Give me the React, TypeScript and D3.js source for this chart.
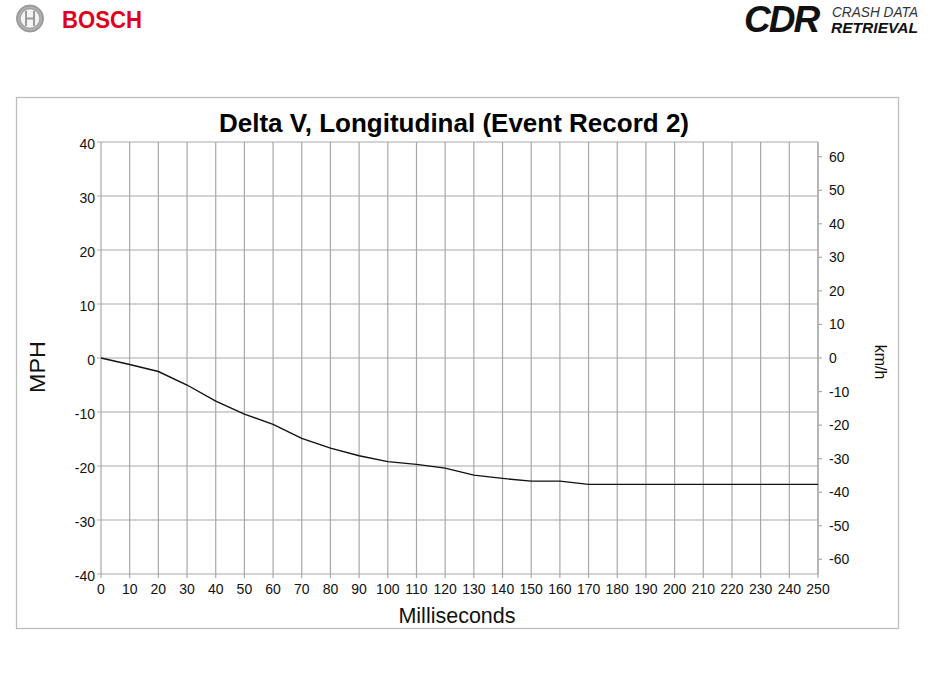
import * as d3 from "d3";
import { useEffect, useRef } from "react";

const timeMs: number[] = [0, 10, 20, 30, 40, 50, 60, 70, 80, 90, 100, 110, 120, 130, 140, 150, 160, 170, 180, 190, 200, 210, 220, 230, 240, 250];
const deltaVMph: number[] = [0, -1.2, -2.5, -5.0, -8.0, -10.4, -12.3, -14.9, -16.7, -18.1, -19.2, -19.7, -20.4, -21.7, -22.3, -22.8, -22.8, -23.4, -23.4, -23.4, -23.4, -23.4, -23.4, -23.4, -23.4, -23.4];
const mphTicks: number[] = [-40, -30, -20, -10, 0, 10, 20, 30, 40];
const kmhTicks: number[] = [-60, -50, -40, -30, -20, -10, 0, 10, 20, 30, 40, 50, 60];
const msTicks: number[] = d3.range(0, 251, 10);

const KMH_PER_MPH = 1.609344;

export default function App() {
  const svgRef = useRef<SVGSVGElement | null>(null);

  useEffect(() => {
    const width = 936;
    const height = 676;
    const svg = d3.select(svgRef.current).attr("width", width).attr("height", height);
    svg.selectAll("*").remove();

    const font = "'Liberation Sans', Arial, sans-serif";
    const left = 101, right = 818, top = 142, bottom = 574;

    const x = d3.scaleLinear().domain([0, 250]).range([left, right]);
    const y = d3.scaleLinear().domain([-40, 40]).range([bottom, top]);
    const yKmh = d3.scaleLinear().domain([-40 * KMH_PER_MPH, 40 * KMH_PER_MPH]).range([bottom, top]);

    // header logos
    const logo = svg.append("g");
    const grad = svg.append("defs").append("radialGradient").attr("id", "boschRing");
    grad.append("stop").attr("offset", "60%").attr("stop-color", "#ececec");
    grad.append("stop").attr("offset", "100%").attr("stop-color", "#8a8a8a");
    logo.append("circle").attr("cx", 30).attr("cy", 18.5).attr("r", 13.5)
      .attr("fill", "url(#boschRing)").attr("stroke", "#9a9a9a").attr("stroke-width", 1);
    logo.append("circle").attr("cx", 30).attr("cy", 18.5).attr("r", 10)
      .attr("fill", "#f4f4f4").attr("stroke", "#a0a0a0").attr("stroke-width", 1.4);
    logo.append("path").attr("d", "M26,11 V26 M34,11 V26 M26,18.5 H34")
      .attr("stroke", "#9a9a9a").attr("stroke-width", 2).attr("fill", "none");
    logo.append("text").attr("x", 62).attr("y", 28).text("BOSCH")
      .attr("font-family", font).attr("font-weight", "bold").attr("font-size", 24)
      .attr("textLength", 80).attr("lengthAdjust", "spacingAndGlyphs")
      .attr("fill", "#e0001b");

    logo.append("text").attr("x", 744).attr("y", 32).text("CDR")
      .attr("font-family", font).attr("font-weight", "900").attr("font-style", "italic")
      .attr("font-size", 37).attr("letter-spacing", -2).attr("fill", "#111");
    logo.append("text").attr("x", 832).attr("y", 17).text("CRASH DATA")
      .attr("font-family", font).attr("font-style", "italic").attr("font-size", 15)
      .attr("textLength", 86).attr("lengthAdjust", "spacingAndGlyphs").attr("fill", "#333");
    logo.append("text").attr("x", 831).attr("y", 33).text("RETRIEVAL")
      .attr("font-family", font).attr("font-style", "italic").attr("font-weight", "bold")
      .attr("font-size", 15).attr("textLength", 87).attr("lengthAdjust", "spacingAndGlyphs")
      .attr("fill", "#111");

    // frame
    svg.append("rect").attr("x", 16.5).attr("y", 97.5).attr("width", 882).attr("height", 531)
      .attr("fill", "#fff").attr("stroke", "#bdbdbd").attr("stroke-width", 1.3);

    // grid
    const grid = svg.append("g").attr("stroke", "#a8a8a8").attr("stroke-width", 1.2);
    grid.selectAll("line.v").data(msTicks).enter().append("line")
      .attr("x1", d => x(d)).attr("x2", d => x(d)).attr("y1", top).attr("y2", bottom + 4);
    grid.selectAll("line.h").data(mphTicks).enter().append("line")
      .attr("x1", left - 4).attr("x2", right).attr("y1", d => y(d)).attr("y2", d => y(d));
    grid.selectAll("line.r").data(kmhTicks).enter().append("line")
      .attr("x1", right).attr("x2", right + 4).attr("y1", d => yKmh(d)).attr("y2", d => yKmh(d));
    grid.append("line").attr("x1", right).attr("x2", right).attr("y1", top).attr("y2", bottom);

    // tick labels
    const lab = svg.append("g").attr("font-family", font).attr("font-size", 14).attr("fill", "#111");
    lab.selectAll("text.l").data(mphTicks).enter().append("text")
      .attr("x", left - 6).attr("y", d => y(d) + 7).attr("text-anchor", "end").text(d => d);
    lab.selectAll("text.r").data(kmhTicks).enter().append("text")
      .attr("x", right + 11).attr("y", d => yKmh(d) + 5).attr("text-anchor", "start").text(d => d);
    lab.selectAll("text.b").data(msTicks).enter().append("text")
      .attr("x", d => x(d)).attr("y", bottom + 20).attr("text-anchor", "middle").text(d => d);

    // titles
    svg.append("text").attr("x", 454).attr("y", 132).attr("text-anchor", "middle")
      .attr("font-family", font).attr("font-weight", "bold").attr("font-size", 26)
      .attr("fill", "#000").text("Delta V, Longitudinal (Event Record 2)");
    svg.append("text").attr("transform", "translate(45,367) rotate(-90)").attr("text-anchor", "middle")
      .attr("font-family", font).attr("font-size", 22).attr("textLength", 52)
      .attr("lengthAdjust", "spacingAndGlyphs").attr("fill", "#111").text("MPH");
    svg.append("text").attr("transform", "translate(875,362) rotate(90)").attr("text-anchor", "middle")
      .attr("font-family", font).attr("font-size", 16).attr("fill", "#111").text("km/h");
    svg.append("text").attr("x", 457).attr("y", 623).attr("text-anchor", "middle")
      .attr("font-family", font).attr("font-size", 21.5).attr("fill", "#111").text("Milliseconds");

    // series
    const line = d3.line<number>().x((_, i) => x(timeMs[i])).y(d => y(d));
    svg.append("path").datum(deltaVMph).attr("d", line).attr("fill", "none")
      .attr("stroke", "#111").attr("stroke-width", 1.4);
  }, []);

  return (
    <svg ref={svgRef} style={{ position: "absolute", left: 0, top: 0, background: "#fff" }}></svg>
  );
}
